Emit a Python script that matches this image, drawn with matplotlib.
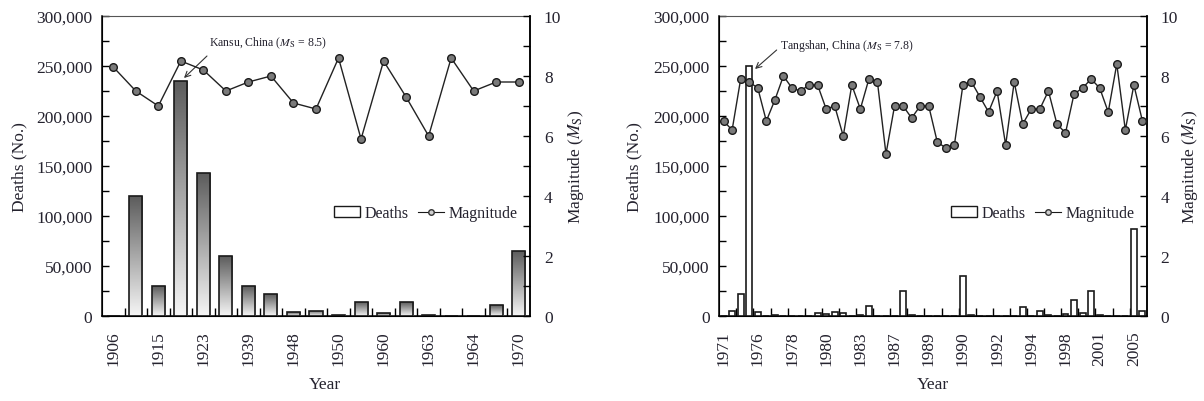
import numpy as np
import matplotlib.pyplot as plt
from matplotlib.ticker import MultipleLocator, FixedLocator, StrMethodFormatter, NullFormatter
from matplotlib.colors import LinearSegmentedColormap
from matplotlib.patches import Patch
from matplotlib.lines import Line2D

plt.rcParams['font.family'] = ['Liberation Serif', 'DejaVu Serif']
plt.rcParams['mathtext.fontset'] = 'stix'

# ---- left panel: 1906-1970 ----
labels_a = ['1906', '1915', '1923', '1939', '1948', '1950', '1960', '1963', '1964', '1970']
deaths_a = [0, 120000, 30000, 235000, 143000, 60000, 30000, 22000, 4000, 5500,
            1500, 14000, 3000, 14000, 1000, 0, 0, 11000, 65000]
mag_a = [8.3, 7.5, 7.0, 8.5, 8.2, 7.5, 7.8, 8.0, 7.1, 6.9,
         8.6, 5.9, 8.5, 7.3, 6.0, 8.6, 7.5, 7.8, 7.8]

# ---- right panel: 1971-2005 ----
labels_b = ['1971', '1976', '1978', '1980', '1983', '1987', '1989', '1990',
            '1992', '1994', '1998', '2001', '2005']
deaths_b = [0, 5000, 22000, 250000, 4000, 0, 1000, 0, 0, 0,
            0, 3000, 2000, 4000, 3000, 0, 1000, 10000, 0, 0,
            0, 25000, 1500, 0, 0, 0, 0, 0, 40000, 1500,
            0, 0, 0, 0, 0, 9000, 0, 5000, 1000, 0,
            2000, 16000, 3000, 25000, 1000, 0, 0, 0, 87000, 5000]
mag_b = [6.5, 6.2, 7.9, 7.8, 7.6, 6.5, 7.2, 8.0, 7.6, 7.5,
         7.7, 7.7, 6.9, 7.0, 6.0, 7.7, 6.9, 7.9, 7.8, 5.4,
         7.0, 7.0, 6.6, 7.0, 7.0, 5.8, 5.6, 5.7, 7.7, 7.8,
         7.3, 6.8, 7.5, 5.7, 7.8, 6.4, 6.9, 6.9, 7.5, 6.4,
         6.1, 7.4, 7.6, 7.9, 7.6, 6.8, 8.4, 6.2, 7.7, 6.5]

note_a = 'Kansu, China ($M_\\mathrm{S}$ = 8.5)'
note_b = 'Tangshan, China ($M_\\mathrm{S}$ = 7.8)'

txt = '#24222e'
grey_map = LinearSegmentedColormap.from_list('bargrad', ['#f6f6f6', '#5c5c5c'])


def draw_panel(rect, deaths, mags, labels, label_step, tick_start, tick_step,
               bar_w, shaded, note, note_pos, arrow_tail, arrow_head):
    ax = fig.add_axes(rect)
    n = len(deaths)
    x = np.arange(n)

    bars = ax.bar(x, deaths, width=bar_w, facecolor='none' if shaded else 'white',
                  edgecolor='#1a1a1a', linewidth=1.2, zorder=4)
    if shaded:
        # each bar shaded dark at the top, fading to white at the base
        grad = np.linspace(0, 1, 256).reshape(-1, 1)
        for b in bars:
            h = b.get_height()
            if h <= 0:
                continue
            im = ax.imshow(grad, extent=(b.get_x(), b.get_x() + b.get_width(), 0, h),
                           origin='lower', cmap=grey_map, aspect='auto', zorder=3)
            im.set_clip_path(b)

    ax.set_xlim(-0.5, n - 0.5)
    ax.set_ylim(0, 300000)
    ax.yaxis.set_major_locator(MultipleLocator(50000))
    ax.yaxis.set_minor_locator(MultipleLocator(25000))
    ax.yaxis.set_major_formatter(StrMethodFormatter('{x:,.0f}'))
    ax.tick_params(axis='y', which='both', direction='in', length=5, width=1,
                   labelsize=12.5, labelcolor=txt, pad=7)

    ax.xaxis.set_major_locator(FixedLocator(x[::label_step]))
    ax.set_xticklabels(labels, rotation=90)
    ax.xaxis.set_minor_locator(FixedLocator(np.arange(tick_start, n - 1, tick_step)))
    ax.xaxis.set_minor_formatter(NullFormatter())
    ax.tick_params(axis='x', which='major', length=0, labelsize=12.5,
                   labelcolor=txt, pad=10)
    ax.tick_params(axis='x', which='minor', direction='in', length=5.5, width=1)

    ax.set_ylabel('Deaths (No.)', fontsize=12.5, color=txt)
    ax.yaxis.set_label_coords(-0.175, 0.5)
    ax.set_xlabel('Year', fontsize=12.5, color=txt)

    for s in ['left', 'bottom', 'right']:
        ax.spines[s].set_linewidth(1.1)
    ax.spines['top'].set_linewidth(0.8)
    ax.spines['top'].set_color('#555555')

    ax2 = ax.twinx()
    ax2.plot(x, mags, color='#222222', linewidth=1.0, marker='o', markersize=5.5,
             markerfacecolor='#7a7a7a', markeredgecolor='#1a1a1a', markeredgewidth=1.0,
             zorder=5)
    ax2.set_ylim(0, 10)
    ax2.yaxis.set_major_locator(MultipleLocator(2))
    ax2.yaxis.set_minor_locator(MultipleLocator(1))
    ax2.tick_params(axis='y', which='both', direction='in', length=5, width=1,
                    labelsize=12.5, labelcolor=txt, pad=10)
    ax2.set_ylabel('Magnitude ($M_\\mathrm{S}$)', fontsize=12.5, color=txt)
    ax2.spines['right'].set_linewidth(1.1)
    ax2.spines['top'].set_visible(False)

    ax.text(note_pos[0], note_pos[1], note, fontsize=8.5, color=txt,
            ha='left', va='center', zorder=6)
    ax.annotate('', xy=arrow_head, xytext=arrow_tail,
                arrowprops=dict(arrowstyle='->', color='#333333', lw=0.8,
                                mutation_scale=10, shrinkA=0, shrinkB=0))

    handles = [Patch(facecolor='white', edgecolor='#1a1a1a', linewidth=1.0),
               Line2D([], [], color='#1a1a1a', lw=0.8, marker='o', markersize=4,
                      markerfacecolor='#cfcfcf', markeredgecolor='#333333')]
    ax2.legend(handles, ['Deaths', 'Magnitude'], loc='center',
               bbox_to_anchor=(0.757, 0.343), frameon=False, fontsize=11.5,
               handlelength=1.6, handletextpad=0.3, columnspacing=0.6, ncol=2,
               labelcolor=txt)
    return ax, ax2


fig = plt.figure(figsize=(12.04, 4.02), dpi=100)

axa, axa2 = draw_panel([102 / 1204, 85 / 402, 428 / 1204, 300 / 402],
                       deaths_a, mag_a, labels_a, 2, 0.5, 1, 0.58, True,
                       note_a, (4.25, 274000), (4.16, 260000), (3.14, 238000))
axa.xaxis.set_label_coords(0.52, -0.2)
axa2.yaxis.set_label_coords(1.085, 0.5)

axb, axb2 = draw_panel([719.3 / 1204, 85 / 402, 427.4 / 1204, 300 / 402],
                       deaths_b, mag_b, labels_b, 4, 1.5, 2, 0.7, False,
                       note_b, (6.6, 271000), (6.21, 266000), (3.68, 247000))
axb.yaxis.set_label_coords(-0.18, 0.5)
axb.xaxis.set_label_coords(0.5, -0.2)
axb2.yaxis.set_label_coords(1.077, 0.5)

fig.savefig('out.png', dpi=100)
